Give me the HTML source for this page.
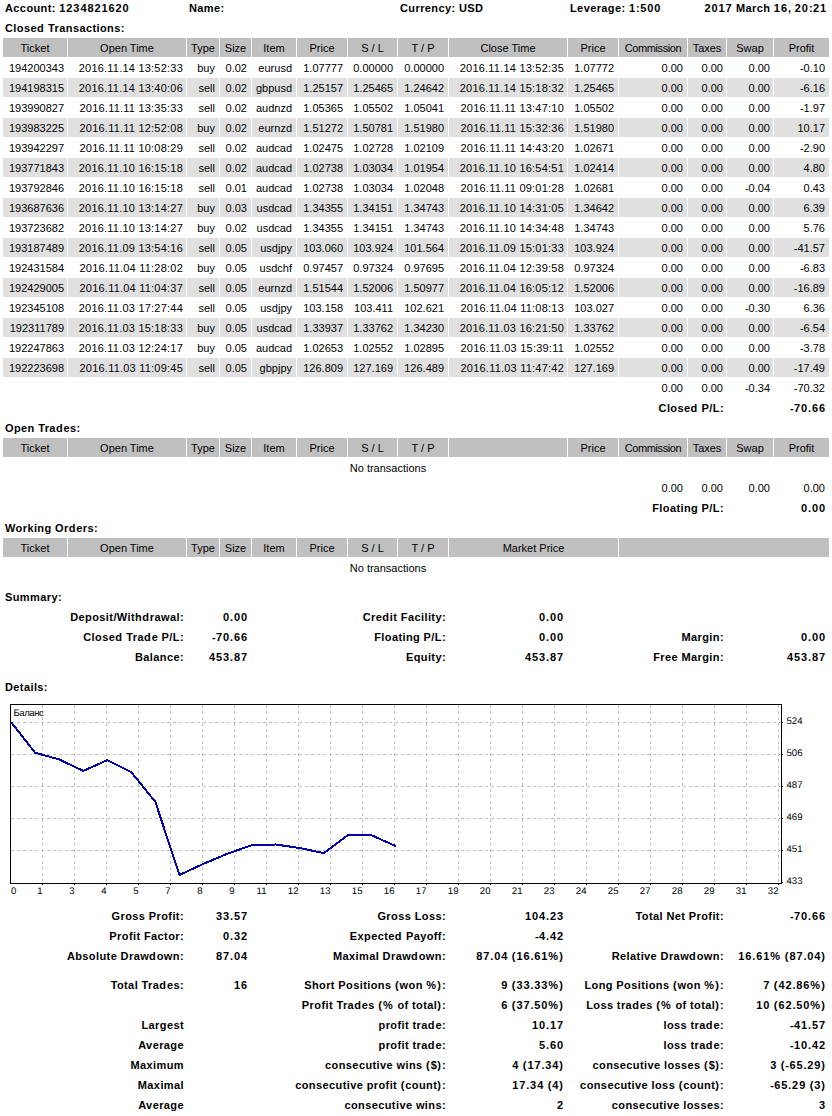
<!DOCTYPE html><html><head><meta charset="utf-8"><title>Statement</title><style>

html,body{margin:0;padding:0;background:#fff;}
body{width:832px;height:1116px;overflow:hidden;position:relative;}
.c{position:absolute;height:19px;line-height:21px;box-sizing:border-box;padding:0 3px;
   font-family:"Liberation Sans",sans-serif;font-size:11px;color:#000;white-space:nowrap;text-align:right;overflow:visible;}
.l{text-align:left;padding-left:2px;}
.m{text-align:center;}
.b{font-weight:bold;letter-spacing:0.4px;padding-right:2px;}
i{font-style:normal;}
.n{letter-spacing:0.9px;}
.o{letter-spacing:0.8px;}
.q{letter-spacing:1.0px;}
.p{letter-spacing:1.2px;}
.d{letter-spacing:0.22px;}
.cm{letter-spacing:-0.4px;}
.r4{padding-right:4px;}
.b.bv{padding-right:3px;}
.chart{position:absolute;left:0;top:0;}
.ct{font-family:"Liberation Sans",sans-serif;font-size:9.6px;fill:#000;text-rendering:geometricPrecision;}

</style></head><body>
<div class="c l b" style="left:3px;top:-2px;width:183px;">Account: <i class="n">1234821620</i></div>
<div class="c l b" style="left:187px;top:-2px;width:210px;">Name:</div>
<div class="c l b" style="left:398px;top:-2px;width:169px;">Currency: USD</div>
<div class="c l b" style="left:568px;top:-2px;width:119px;">Leverage: <i class="n">1</i>:<i class="n">500</i></div>
<div class="c b" style="left:688px;top:-2px;width:141px;"><i class="n">2017</i> March <i class="n">16</i>, <i class="n">20</i>:<i class="n">21</i></div>
<div class="c l b" style="left:3px;top:18px;width:826px;">Close<i class="n">d</i> Transactions:</div>
<div class="c m h" style="left:3px;top:38px;width:64px;background:#C0C0C0;">Ticket</div>
<div class="c m h" style="left:68px;top:38px;width:118px;background:#C0C0C0;">Open Time</div>
<div class="c m h" style="left:187px;top:38px;width:32px;background:#C0C0C0;">Type</div>
<div class="c m h" style="left:220px;top:38px;width:31px;background:#C0C0C0;">Size</div>
<div class="c m h" style="left:252px;top:38px;width:44px;background:#C0C0C0;">Item</div>
<div class="c m h" style="left:297px;top:38px;width:50px;background:#C0C0C0;">Price</div>
<div class="c m h" style="left:348px;top:38px;width:49px;background:#C0C0C0;">S / L</div>
<div class="c m h" style="left:398px;top:38px;width:50px;background:#C0C0C0;">T / P</div>
<div class="c m h" style="left:449px;top:38px;width:118px;background:#C0C0C0;">Close Time</div>
<div class="c m h" style="left:568px;top:38px;width:50px;background:#C0C0C0;">Price</div>
<div class="c m h cm" style="left:619px;top:38px;width:68px;background:#C0C0C0;">Commission</div>
<div class="c m h" style="left:688px;top:38px;width:38px;background:#C0C0C0;">Taxes</div>
<div class="c m h" style="left:727px;top:38px;width:46px;background:#C0C0C0;">Swap</div>
<div class="c m h" style="left:774px;top:38px;width:55px;background:#C0C0C0;">Profit</div>
<div class="c" style="left:3px;top:58px;width:64px;">194200343</div>
<div class="c d" style="left:68px;top:58px;width:118px;">2016.11.14 13:52:33</div>
<div class="c  r4" style="left:187px;top:58px;width:32px;">buy</div>
<div class="c  r4" style="left:220px;top:58px;width:31px;">0.02</div>
<div class="c  r4" style="left:252px;top:58px;width:44px;">eurusd</div>
<div class="c  r4" style="left:297px;top:58px;width:50px;">1.07777</div>
<div class="c  r4" style="left:348px;top:58px;width:49px;">0.00000</div>
<div class="c  r4" style="left:398px;top:58px;width:50px;">0.00000</div>
<div class="c d" style="left:449px;top:58px;width:118px;">2016.11.14 13:52:35</div>
<div class="c  r4" style="left:568px;top:58px;width:50px;">1.07772</div>
<div class="c  r4" style="left:619px;top:58px;width:68px;">0.00</div>
<div class="c" style="left:688px;top:58px;width:38px;">0.00</div>
<div class="c" style="left:727px;top:58px;width:46px;">0.00</div>
<div class="c  r4" style="left:774px;top:58px;width:55px;">-0.10</div>
<div class="c" style="left:3px;top:78px;width:64px;background:#E0E0E0;">194198315</div>
<div class="c d" style="left:68px;top:78px;width:118px;background:#E0E0E0;">2016.11.14 13:40:06</div>
<div class="c  r4" style="left:187px;top:78px;width:32px;background:#E0E0E0;">sell</div>
<div class="c  r4" style="left:220px;top:78px;width:31px;background:#E0E0E0;">0.02</div>
<div class="c  r4" style="left:252px;top:78px;width:44px;background:#E0E0E0;">gbpusd</div>
<div class="c  r4" style="left:297px;top:78px;width:50px;background:#E0E0E0;">1.25157</div>
<div class="c  r4" style="left:348px;top:78px;width:49px;background:#E0E0E0;">1.25465</div>
<div class="c  r4" style="left:398px;top:78px;width:50px;background:#E0E0E0;">1.24642</div>
<div class="c d" style="left:449px;top:78px;width:118px;background:#E0E0E0;">2016.11.14 15:18:32</div>
<div class="c  r4" style="left:568px;top:78px;width:50px;background:#E0E0E0;">1.25465</div>
<div class="c  r4" style="left:619px;top:78px;width:68px;background:#E0E0E0;">0.00</div>
<div class="c" style="left:688px;top:78px;width:38px;background:#E0E0E0;">0.00</div>
<div class="c" style="left:727px;top:78px;width:46px;background:#E0E0E0;">0.00</div>
<div class="c  r4" style="left:774px;top:78px;width:55px;background:#E0E0E0;">-6.16</div>
<div class="c" style="left:3px;top:98px;width:64px;">193990827</div>
<div class="c d" style="left:68px;top:98px;width:118px;">2016.11.11 13:35:33</div>
<div class="c  r4" style="left:187px;top:98px;width:32px;">sell</div>
<div class="c  r4" style="left:220px;top:98px;width:31px;">0.02</div>
<div class="c  r4" style="left:252px;top:98px;width:44px;">audnzd</div>
<div class="c  r4" style="left:297px;top:98px;width:50px;">1.05365</div>
<div class="c  r4" style="left:348px;top:98px;width:49px;">1.05502</div>
<div class="c  r4" style="left:398px;top:98px;width:50px;">1.05041</div>
<div class="c d" style="left:449px;top:98px;width:118px;">2016.11.11 13:47:10</div>
<div class="c  r4" style="left:568px;top:98px;width:50px;">1.05502</div>
<div class="c  r4" style="left:619px;top:98px;width:68px;">0.00</div>
<div class="c" style="left:688px;top:98px;width:38px;">0.00</div>
<div class="c" style="left:727px;top:98px;width:46px;">0.00</div>
<div class="c  r4" style="left:774px;top:98px;width:55px;">-1.97</div>
<div class="c" style="left:3px;top:118px;width:64px;background:#E0E0E0;">193983225</div>
<div class="c d" style="left:68px;top:118px;width:118px;background:#E0E0E0;">2016.11.11 12:52:08</div>
<div class="c  r4" style="left:187px;top:118px;width:32px;background:#E0E0E0;">buy</div>
<div class="c  r4" style="left:220px;top:118px;width:31px;background:#E0E0E0;">0.02</div>
<div class="c  r4" style="left:252px;top:118px;width:44px;background:#E0E0E0;">eurnzd</div>
<div class="c  r4" style="left:297px;top:118px;width:50px;background:#E0E0E0;">1.51272</div>
<div class="c  r4" style="left:348px;top:118px;width:49px;background:#E0E0E0;">1.50781</div>
<div class="c  r4" style="left:398px;top:118px;width:50px;background:#E0E0E0;">1.51980</div>
<div class="c d" style="left:449px;top:118px;width:118px;background:#E0E0E0;">2016.11.11 15:32:36</div>
<div class="c  r4" style="left:568px;top:118px;width:50px;background:#E0E0E0;">1.51980</div>
<div class="c  r4" style="left:619px;top:118px;width:68px;background:#E0E0E0;">0.00</div>
<div class="c" style="left:688px;top:118px;width:38px;background:#E0E0E0;">0.00</div>
<div class="c" style="left:727px;top:118px;width:46px;background:#E0E0E0;">0.00</div>
<div class="c  r4" style="left:774px;top:118px;width:55px;background:#E0E0E0;">10.17</div>
<div class="c" style="left:3px;top:138px;width:64px;">193942297</div>
<div class="c d" style="left:68px;top:138px;width:118px;">2016.11.11 10:08:29</div>
<div class="c  r4" style="left:187px;top:138px;width:32px;">sell</div>
<div class="c  r4" style="left:220px;top:138px;width:31px;">0.02</div>
<div class="c  r4" style="left:252px;top:138px;width:44px;">audcad</div>
<div class="c  r4" style="left:297px;top:138px;width:50px;">1.02475</div>
<div class="c  r4" style="left:348px;top:138px;width:49px;">1.02728</div>
<div class="c  r4" style="left:398px;top:138px;width:50px;">1.02109</div>
<div class="c d" style="left:449px;top:138px;width:118px;">2016.11.11 14:43:20</div>
<div class="c  r4" style="left:568px;top:138px;width:50px;">1.02671</div>
<div class="c  r4" style="left:619px;top:138px;width:68px;">0.00</div>
<div class="c" style="left:688px;top:138px;width:38px;">0.00</div>
<div class="c" style="left:727px;top:138px;width:46px;">0.00</div>
<div class="c  r4" style="left:774px;top:138px;width:55px;">-2.90</div>
<div class="c" style="left:3px;top:158px;width:64px;background:#E0E0E0;">193771843</div>
<div class="c d" style="left:68px;top:158px;width:118px;background:#E0E0E0;">2016.11.10 16:15:18</div>
<div class="c  r4" style="left:187px;top:158px;width:32px;background:#E0E0E0;">sell</div>
<div class="c  r4" style="left:220px;top:158px;width:31px;background:#E0E0E0;">0.02</div>
<div class="c  r4" style="left:252px;top:158px;width:44px;background:#E0E0E0;">audcad</div>
<div class="c  r4" style="left:297px;top:158px;width:50px;background:#E0E0E0;">1.02738</div>
<div class="c  r4" style="left:348px;top:158px;width:49px;background:#E0E0E0;">1.03034</div>
<div class="c  r4" style="left:398px;top:158px;width:50px;background:#E0E0E0;">1.01954</div>
<div class="c d" style="left:449px;top:158px;width:118px;background:#E0E0E0;">2016.11.10 16:54:51</div>
<div class="c  r4" style="left:568px;top:158px;width:50px;background:#E0E0E0;">1.02414</div>
<div class="c  r4" style="left:619px;top:158px;width:68px;background:#E0E0E0;">0.00</div>
<div class="c" style="left:688px;top:158px;width:38px;background:#E0E0E0;">0.00</div>
<div class="c" style="left:727px;top:158px;width:46px;background:#E0E0E0;">0.00</div>
<div class="c  r4" style="left:774px;top:158px;width:55px;background:#E0E0E0;">4.80</div>
<div class="c" style="left:3px;top:178px;width:64px;">193792846</div>
<div class="c d" style="left:68px;top:178px;width:118px;">2016.11.10 16:15:18</div>
<div class="c  r4" style="left:187px;top:178px;width:32px;">sell</div>
<div class="c  r4" style="left:220px;top:178px;width:31px;">0.01</div>
<div class="c  r4" style="left:252px;top:178px;width:44px;">audcad</div>
<div class="c  r4" style="left:297px;top:178px;width:50px;">1.02738</div>
<div class="c  r4" style="left:348px;top:178px;width:49px;">1.03034</div>
<div class="c  r4" style="left:398px;top:178px;width:50px;">1.02048</div>
<div class="c d" style="left:449px;top:178px;width:118px;">2016.11.11 09:01:28</div>
<div class="c  r4" style="left:568px;top:178px;width:50px;">1.02681</div>
<div class="c  r4" style="left:619px;top:178px;width:68px;">0.00</div>
<div class="c" style="left:688px;top:178px;width:38px;">0.00</div>
<div class="c" style="left:727px;top:178px;width:46px;">-0.04</div>
<div class="c  r4" style="left:774px;top:178px;width:55px;">0.43</div>
<div class="c" style="left:3px;top:198px;width:64px;background:#E0E0E0;">193687636</div>
<div class="c d" style="left:68px;top:198px;width:118px;background:#E0E0E0;">2016.11.10 13:14:27</div>
<div class="c  r4" style="left:187px;top:198px;width:32px;background:#E0E0E0;">buy</div>
<div class="c  r4" style="left:220px;top:198px;width:31px;background:#E0E0E0;">0.03</div>
<div class="c  r4" style="left:252px;top:198px;width:44px;background:#E0E0E0;">usdcad</div>
<div class="c  r4" style="left:297px;top:198px;width:50px;background:#E0E0E0;">1.34355</div>
<div class="c  r4" style="left:348px;top:198px;width:49px;background:#E0E0E0;">1.34151</div>
<div class="c  r4" style="left:398px;top:198px;width:50px;background:#E0E0E0;">1.34743</div>
<div class="c d" style="left:449px;top:198px;width:118px;background:#E0E0E0;">2016.11.10 14:31:05</div>
<div class="c  r4" style="left:568px;top:198px;width:50px;background:#E0E0E0;">1.34642</div>
<div class="c  r4" style="left:619px;top:198px;width:68px;background:#E0E0E0;">0.00</div>
<div class="c" style="left:688px;top:198px;width:38px;background:#E0E0E0;">0.00</div>
<div class="c" style="left:727px;top:198px;width:46px;background:#E0E0E0;">0.00</div>
<div class="c  r4" style="left:774px;top:198px;width:55px;background:#E0E0E0;">6.39</div>
<div class="c" style="left:3px;top:218px;width:64px;">193723682</div>
<div class="c d" style="left:68px;top:218px;width:118px;">2016.11.10 13:14:27</div>
<div class="c  r4" style="left:187px;top:218px;width:32px;">buy</div>
<div class="c  r4" style="left:220px;top:218px;width:31px;">0.02</div>
<div class="c  r4" style="left:252px;top:218px;width:44px;">usdcad</div>
<div class="c  r4" style="left:297px;top:218px;width:50px;">1.34355</div>
<div class="c  r4" style="left:348px;top:218px;width:49px;">1.34151</div>
<div class="c  r4" style="left:398px;top:218px;width:50px;">1.34743</div>
<div class="c d" style="left:449px;top:218px;width:118px;">2016.11.10 14:34:48</div>
<div class="c  r4" style="left:568px;top:218px;width:50px;">1.34743</div>
<div class="c  r4" style="left:619px;top:218px;width:68px;">0.00</div>
<div class="c" style="left:688px;top:218px;width:38px;">0.00</div>
<div class="c" style="left:727px;top:218px;width:46px;">0.00</div>
<div class="c  r4" style="left:774px;top:218px;width:55px;">5.76</div>
<div class="c" style="left:3px;top:238px;width:64px;background:#E0E0E0;">193187489</div>
<div class="c d" style="left:68px;top:238px;width:118px;background:#E0E0E0;">2016.11.09 13:54:16</div>
<div class="c  r4" style="left:187px;top:238px;width:32px;background:#E0E0E0;">sell</div>
<div class="c  r4" style="left:220px;top:238px;width:31px;background:#E0E0E0;">0.05</div>
<div class="c  r4" style="left:252px;top:238px;width:44px;background:#E0E0E0;">usdjpy</div>
<div class="c  r4" style="left:297px;top:238px;width:50px;background:#E0E0E0;">103.060</div>
<div class="c  r4" style="left:348px;top:238px;width:49px;background:#E0E0E0;">103.924</div>
<div class="c  r4" style="left:398px;top:238px;width:50px;background:#E0E0E0;">101.564</div>
<div class="c d" style="left:449px;top:238px;width:118px;background:#E0E0E0;">2016.11.09 15:01:33</div>
<div class="c  r4" style="left:568px;top:238px;width:50px;background:#E0E0E0;">103.924</div>
<div class="c  r4" style="left:619px;top:238px;width:68px;background:#E0E0E0;">0.00</div>
<div class="c" style="left:688px;top:238px;width:38px;background:#E0E0E0;">0.00</div>
<div class="c" style="left:727px;top:238px;width:46px;background:#E0E0E0;">0.00</div>
<div class="c  r4" style="left:774px;top:238px;width:55px;background:#E0E0E0;">-41.57</div>
<div class="c" style="left:3px;top:258px;width:64px;">192431584</div>
<div class="c d" style="left:68px;top:258px;width:118px;">2016.11.04 11:28:02</div>
<div class="c  r4" style="left:187px;top:258px;width:32px;">buy</div>
<div class="c  r4" style="left:220px;top:258px;width:31px;">0.05</div>
<div class="c  r4" style="left:252px;top:258px;width:44px;">usdchf</div>
<div class="c  r4" style="left:297px;top:258px;width:50px;">0.97457</div>
<div class="c  r4" style="left:348px;top:258px;width:49px;">0.97324</div>
<div class="c  r4" style="left:398px;top:258px;width:50px;">0.97695</div>
<div class="c d" style="left:449px;top:258px;width:118px;">2016.11.04 12:39:58</div>
<div class="c  r4" style="left:568px;top:258px;width:50px;">0.97324</div>
<div class="c  r4" style="left:619px;top:258px;width:68px;">0.00</div>
<div class="c" style="left:688px;top:258px;width:38px;">0.00</div>
<div class="c" style="left:727px;top:258px;width:46px;">0.00</div>
<div class="c  r4" style="left:774px;top:258px;width:55px;">-6.83</div>
<div class="c" style="left:3px;top:278px;width:64px;background:#E0E0E0;">192429005</div>
<div class="c d" style="left:68px;top:278px;width:118px;background:#E0E0E0;">2016.11.04 11:04:37</div>
<div class="c  r4" style="left:187px;top:278px;width:32px;background:#E0E0E0;">sell</div>
<div class="c  r4" style="left:220px;top:278px;width:31px;background:#E0E0E0;">0.05</div>
<div class="c  r4" style="left:252px;top:278px;width:44px;background:#E0E0E0;">eurnzd</div>
<div class="c  r4" style="left:297px;top:278px;width:50px;background:#E0E0E0;">1.51544</div>
<div class="c  r4" style="left:348px;top:278px;width:49px;background:#E0E0E0;">1.52006</div>
<div class="c  r4" style="left:398px;top:278px;width:50px;background:#E0E0E0;">1.50977</div>
<div class="c d" style="left:449px;top:278px;width:118px;background:#E0E0E0;">2016.11.04 16:05:12</div>
<div class="c  r4" style="left:568px;top:278px;width:50px;background:#E0E0E0;">1.52006</div>
<div class="c  r4" style="left:619px;top:278px;width:68px;background:#E0E0E0;">0.00</div>
<div class="c" style="left:688px;top:278px;width:38px;background:#E0E0E0;">0.00</div>
<div class="c" style="left:727px;top:278px;width:46px;background:#E0E0E0;">0.00</div>
<div class="c  r4" style="left:774px;top:278px;width:55px;background:#E0E0E0;">-16.89</div>
<div class="c" style="left:3px;top:298px;width:64px;">192345108</div>
<div class="c d" style="left:68px;top:298px;width:118px;">2016.11.03 17:27:44</div>
<div class="c  r4" style="left:187px;top:298px;width:32px;">sell</div>
<div class="c  r4" style="left:220px;top:298px;width:31px;">0.05</div>
<div class="c  r4" style="left:252px;top:298px;width:44px;">usdjpy</div>
<div class="c  r4" style="left:297px;top:298px;width:50px;">103.158</div>
<div class="c  r4" style="left:348px;top:298px;width:49px;">103.411</div>
<div class="c  r4" style="left:398px;top:298px;width:50px;">102.621</div>
<div class="c d" style="left:449px;top:298px;width:118px;">2016.11.04 11:08:13</div>
<div class="c  r4" style="left:568px;top:298px;width:50px;">103.027</div>
<div class="c  r4" style="left:619px;top:298px;width:68px;">0.00</div>
<div class="c" style="left:688px;top:298px;width:38px;">0.00</div>
<div class="c" style="left:727px;top:298px;width:46px;">-0.30</div>
<div class="c  r4" style="left:774px;top:298px;width:55px;">6.36</div>
<div class="c" style="left:3px;top:318px;width:64px;background:#E0E0E0;">192311789</div>
<div class="c d" style="left:68px;top:318px;width:118px;background:#E0E0E0;">2016.11.03 15:18:33</div>
<div class="c  r4" style="left:187px;top:318px;width:32px;background:#E0E0E0;">buy</div>
<div class="c  r4" style="left:220px;top:318px;width:31px;background:#E0E0E0;">0.05</div>
<div class="c  r4" style="left:252px;top:318px;width:44px;background:#E0E0E0;">usdcad</div>
<div class="c  r4" style="left:297px;top:318px;width:50px;background:#E0E0E0;">1.33937</div>
<div class="c  r4" style="left:348px;top:318px;width:49px;background:#E0E0E0;">1.33762</div>
<div class="c  r4" style="left:398px;top:318px;width:50px;background:#E0E0E0;">1.34230</div>
<div class="c d" style="left:449px;top:318px;width:118px;background:#E0E0E0;">2016.11.03 16:21:50</div>
<div class="c  r4" style="left:568px;top:318px;width:50px;background:#E0E0E0;">1.33762</div>
<div class="c  r4" style="left:619px;top:318px;width:68px;background:#E0E0E0;">0.00</div>
<div class="c" style="left:688px;top:318px;width:38px;background:#E0E0E0;">0.00</div>
<div class="c" style="left:727px;top:318px;width:46px;background:#E0E0E0;">0.00</div>
<div class="c  r4" style="left:774px;top:318px;width:55px;background:#E0E0E0;">-6.54</div>
<div class="c" style="left:3px;top:338px;width:64px;">192247863</div>
<div class="c d" style="left:68px;top:338px;width:118px;">2016.11.03 12:24:17</div>
<div class="c  r4" style="left:187px;top:338px;width:32px;">buy</div>
<div class="c  r4" style="left:220px;top:338px;width:31px;">0.05</div>
<div class="c  r4" style="left:252px;top:338px;width:44px;">audcad</div>
<div class="c  r4" style="left:297px;top:338px;width:50px;">1.02653</div>
<div class="c  r4" style="left:348px;top:338px;width:49px;">1.02552</div>
<div class="c  r4" style="left:398px;top:338px;width:50px;">1.02895</div>
<div class="c d" style="left:449px;top:338px;width:118px;">2016.11.03 15:39:11</div>
<div class="c  r4" style="left:568px;top:338px;width:50px;">1.02552</div>
<div class="c  r4" style="left:619px;top:338px;width:68px;">0.00</div>
<div class="c" style="left:688px;top:338px;width:38px;">0.00</div>
<div class="c" style="left:727px;top:338px;width:46px;">0.00</div>
<div class="c  r4" style="left:774px;top:338px;width:55px;">-3.78</div>
<div class="c" style="left:3px;top:358px;width:64px;background:#E0E0E0;">192223698</div>
<div class="c d" style="left:68px;top:358px;width:118px;background:#E0E0E0;">2016.11.03 11:09:45</div>
<div class="c  r4" style="left:187px;top:358px;width:32px;background:#E0E0E0;">sell</div>
<div class="c  r4" style="left:220px;top:358px;width:31px;background:#E0E0E0;">0.05</div>
<div class="c  r4" style="left:252px;top:358px;width:44px;background:#E0E0E0;">gbpjpy</div>
<div class="c  r4" style="left:297px;top:358px;width:50px;background:#E0E0E0;">126.809</div>
<div class="c  r4" style="left:348px;top:358px;width:49px;background:#E0E0E0;">127.169</div>
<div class="c  r4" style="left:398px;top:358px;width:50px;background:#E0E0E0;">126.489</div>
<div class="c d" style="left:449px;top:358px;width:118px;background:#E0E0E0;">2016.11.03 11:47:42</div>
<div class="c  r4" style="left:568px;top:358px;width:50px;background:#E0E0E0;">127.169</div>
<div class="c  r4" style="left:619px;top:358px;width:68px;background:#E0E0E0;">0.00</div>
<div class="c" style="left:688px;top:358px;width:38px;background:#E0E0E0;">0.00</div>
<div class="c" style="left:727px;top:358px;width:46px;background:#E0E0E0;">0.00</div>
<div class="c  r4" style="left:774px;top:358px;width:55px;background:#E0E0E0;">-17.49</div>
<div class="c r4" style="left:619px;top:378px;width:68px;">0.00</div>
<div class="c" style="left:688px;top:378px;width:38px;">0.00</div>
<div class="c" style="left:727px;top:378px;width:46px;">-0.34</div>
<div class="c r4" style="left:774px;top:378px;width:55px;">-70.32</div>
<div class="c b" style="left:568px;top:398px;width:158px;">Close<i class="n">d</i> P/L:</div>
<div class="c b bv" style="left:727px;top:398px;width:102px;">-<i class="n">70</i><i class="o">.</i><i class="n">66</i></div>
<div class="c l b" style="left:3px;top:418px;width:826px;">Open Tra<i class="n">d</i>es:</div>
<div class="c m h" style="left:3px;top:438px;width:64px;background:#C0C0C0;">Ticket</div>
<div class="c m h" style="left:68px;top:438px;width:118px;background:#C0C0C0;">Open Time</div>
<div class="c m h" style="left:187px;top:438px;width:32px;background:#C0C0C0;">Type</div>
<div class="c m h" style="left:220px;top:438px;width:31px;background:#C0C0C0;">Size</div>
<div class="c m h" style="left:252px;top:438px;width:44px;background:#C0C0C0;">Item</div>
<div class="c m h" style="left:297px;top:438px;width:50px;background:#C0C0C0;">Price</div>
<div class="c m h" style="left:348px;top:438px;width:49px;background:#C0C0C0;">S / L</div>
<div class="c m h" style="left:398px;top:438px;width:50px;background:#C0C0C0;">T / P</div>
<div class="c m h" style="left:449px;top:438px;width:118px;background:#C0C0C0;"></div>
<div class="c m h" style="left:568px;top:438px;width:50px;background:#C0C0C0;">Price</div>
<div class="c m h cm" style="left:619px;top:438px;width:68px;background:#C0C0C0;">Commission</div>
<div class="c m h" style="left:688px;top:438px;width:38px;background:#C0C0C0;">Taxes</div>
<div class="c m h" style="left:727px;top:438px;width:46px;background:#C0C0C0;">Swap</div>
<div class="c m h" style="left:774px;top:438px;width:55px;background:#C0C0C0;">Profit</div>
<div class="c m" style="left:3px;top:458px;width:770px;">No transactions</div>
<div class="c r4" style="left:619px;top:478px;width:68px;">0.00</div>
<div class="c" style="left:688px;top:478px;width:38px;">0.00</div>
<div class="c" style="left:727px;top:478px;width:46px;">0.00</div>
<div class="c r4" style="left:774px;top:478px;width:55px;">0.00</div>
<div class="c b" style="left:568px;top:498px;width:158px;">Floating P/L:</div>
<div class="c b bv" style="left:727px;top:498px;width:102px;"><i class="n">0</i><i class="o">.</i><i class="n">00</i></div>
<div class="c l b" style="left:3px;top:518px;width:826px;">Working Or<i class="n">d</i>ers:</div>
<div class="c m h" style="left:3px;top:538px;width:64px;background:#C0C0C0;">Ticket</div>
<div class="c m h" style="left:68px;top:538px;width:118px;background:#C0C0C0;">Open Time</div>
<div class="c m h" style="left:187px;top:538px;width:32px;background:#C0C0C0;">Type</div>
<div class="c m h" style="left:220px;top:538px;width:31px;background:#C0C0C0;">Size</div>
<div class="c m h" style="left:252px;top:538px;width:44px;background:#C0C0C0;">Item</div>
<div class="c m h" style="left:297px;top:538px;width:50px;background:#C0C0C0;">Price</div>
<div class="c m h" style="left:348px;top:538px;width:49px;background:#C0C0C0;">S / L</div>
<div class="c m h" style="left:398px;top:538px;width:50px;background:#C0C0C0;">T / P</div>
<div class="c m h" style="left:449px;top:538px;width:169px;background:#C0C0C0;">Market Price</div>
<div class="c m h" style="left:619px;top:538px;width:210px;background:#C0C0C0;"></div>
<div class="c m" style="left:3px;top:558px;width:770px;">No transactions</div>
<div class="c l b" style="left:3px;top:587px;width:826px;">Summary:</div>
<div class="c b" style="left:3px;top:607px;width:183px;">Deposit/With<i class="n">d</i>rawal:</div>
<div class="c b bv" style="left:187px;top:607px;width:64px;"><i class="n">0</i><i class="o">.</i><i class="n">00</i></div>
<div class="c b" style="left:252px;top:607px;width:196px;">Cre<i class="n">d</i>it Facility:</div>
<div class="c b bv" style="left:449px;top:607px;width:118px;"><i class="n">0</i><i class="o">.</i><i class="n">00</i></div>
<div class="c b" style="left:3px;top:627px;width:183px;">Close<i class="n">d</i> Tra<i class="n">d</i>e P/L:</div>
<div class="c b bv" style="left:187px;top:627px;width:64px;">-<i class="n">70</i><i class="o">.</i><i class="n">66</i></div>
<div class="c b" style="left:252px;top:627px;width:196px;">Floating P/L:</div>
<div class="c b bv" style="left:449px;top:627px;width:118px;"><i class="n">0</i><i class="o">.</i><i class="n">00</i></div>
<div class="c b" style="left:568px;top:627px;width:158px;">Margin:</div>
<div class="c b bv" style="left:727px;top:627px;width:102px;"><i class="n">0</i><i class="o">.</i><i class="n">00</i></div>
<div class="c b" style="left:3px;top:647px;width:183px;">Balance:</div>
<div class="c b bv" style="left:187px;top:647px;width:64px;"><i class="n">453</i><i class="o">.</i><i class="n">87</i></div>
<div class="c b" style="left:252px;top:647px;width:196px;">Equity:</div>
<div class="c b bv" style="left:449px;top:647px;width:118px;"><i class="n">453</i><i class="o">.</i><i class="n">87</i></div>
<div class="c b" style="left:568px;top:647px;width:158px;">Free Margin:</div>
<div class="c b bv" style="left:727px;top:647px;width:102px;"><i class="n">453</i><i class="o">.</i><i class="n">87</i></div>
<div class="c l b" style="left:3px;top:677px;width:826px;">Details:</div>
<div class="c b" style="left:3px;top:906px;width:183px;">Gross Profit:</div>
<div class="c b bv" style="left:187px;top:906px;width:64px;"><i class="n">33</i><i class="o">.</i><i class="n">57</i></div>
<div class="c b" style="left:252px;top:906px;width:196px;">Gross Loss:</div>
<div class="c b bv" style="left:449px;top:906px;width:118px;"><i class="n">104</i><i class="o">.</i><i class="n">23</i></div>
<div class="c b" style="left:568px;top:906px;width:158px;">Total Net Profit:</div>
<div class="c b bv" style="left:727px;top:906px;width:102px;">-<i class="n">70</i><i class="o">.</i><i class="n">66</i></div>
<div class="c b" style="left:3px;top:926px;width:183px;">Profit Factor:</div>
<div class="c b bv" style="left:187px;top:926px;width:64px;"><i class="n">0</i><i class="o">.</i><i class="n">32</i></div>
<div class="c b" style="left:252px;top:926px;width:196px;">Expecte<i class="n">d</i> Payoff:</div>
<div class="c b bv" style="left:449px;top:926px;width:118px;">-<i class="n">4</i><i class="o">.</i><i class="n">42</i></div>
<div class="c b" style="left:3px;top:946px;width:183px;">Absolute Draw<i class="n">d</i>own:</div>
<div class="c b bv" style="left:187px;top:946px;width:64px;"><i class="n">87</i><i class="o">.</i><i class="n">04</i></div>
<div class="c b" style="left:252px;top:946px;width:196px;">Maximal Draw<i class="n">d</i>own:</div>
<div class="c b bv" style="left:449px;top:946px;width:118px;"><i class="n">87</i><i class="o">.</i><i class="n">04</i> <i class="q">(</i><i class="n">16</i><i class="o">.</i><i class="n">61</i><i class="p">%</i><i class="q">)</i></div>
<div class="c b" style="left:568px;top:946px;width:158px;">Relative Draw<i class="n">d</i>own:</div>
<div class="c b bv" style="left:727px;top:946px;width:102px;"><i class="n">16</i><i class="o">.</i><i class="n">61</i><i class="p">%</i> <i class="q">(</i><i class="n">87</i><i class="o">.</i><i class="n">04</i><i class="q">)</i></div>
<div class="c b" style="left:3px;top:975px;width:183px;">Total Tra<i class="n">d</i>es:</div>
<div class="c b bv" style="left:187px;top:975px;width:64px;"><i class="n">16</i></div>
<div class="c b" style="left:252px;top:975px;width:196px;">Short Positions <i class="q">(</i>won <i class="p">%</i><i class="q">)</i>:</div>
<div class="c b bv" style="left:449px;top:975px;width:118px;"><i class="n">9</i> <i class="q">(</i><i class="n">33</i><i class="o">.</i><i class="n">33</i><i class="p">%</i><i class="q">)</i></div>
<div class="c b" style="left:568px;top:975px;width:158px;">Long Positions <i class="q">(</i>won <i class="p">%</i><i class="q">)</i>:</div>
<div class="c b bv" style="left:727px;top:975px;width:102px;"><i class="n">7</i> <i class="q">(</i><i class="n">42</i><i class="o">.</i><i class="n">86</i><i class="p">%</i><i class="q">)</i></div>
<div class="c b" style="left:252px;top:995px;width:196px;">Profit Tra<i class="n">d</i>es <i class="q">(</i><i class="p">%</i> of total<i class="q">)</i>:</div>
<div class="c b bv" style="left:449px;top:995px;width:118px;"><i class="n">6</i> <i class="q">(</i><i class="n">37</i><i class="o">.</i><i class="n">50</i><i class="p">%</i><i class="q">)</i></div>
<div class="c b" style="left:568px;top:995px;width:158px;">Loss tra<i class="n">d</i>es <i class="q">(</i><i class="p">%</i> of total<i class="q">)</i>:</div>
<div class="c b bv" style="left:727px;top:995px;width:102px;"><i class="n">10</i> <i class="q">(</i><i class="n">62</i><i class="o">.</i><i class="n">50</i><i class="p">%</i><i class="q">)</i></div>
<div class="c b" style="left:3px;top:1015px;width:183px;">Largest</div>
<div class="c b" style="left:252px;top:1015px;width:196px;">profit tra<i class="n">d</i>e:</div>
<div class="c b bv" style="left:449px;top:1015px;width:118px;"><i class="n">10</i><i class="o">.</i><i class="n">17</i></div>
<div class="c b" style="left:568px;top:1015px;width:158px;">loss tra<i class="n">d</i>e:</div>
<div class="c b bv" style="left:727px;top:1015px;width:102px;">-<i class="n">41</i><i class="o">.</i><i class="n">57</i></div>
<div class="c b" style="left:3px;top:1035px;width:183px;">Average</div>
<div class="c b" style="left:252px;top:1035px;width:196px;">profit tra<i class="n">d</i>e:</div>
<div class="c b bv" style="left:449px;top:1035px;width:118px;"><i class="n">5</i><i class="o">.</i><i class="n">60</i></div>
<div class="c b" style="left:568px;top:1035px;width:158px;">loss tra<i class="n">d</i>e:</div>
<div class="c b bv" style="left:727px;top:1035px;width:102px;">-<i class="n">10</i><i class="o">.</i><i class="n">42</i></div>
<div class="c b" style="left:3px;top:1055px;width:183px;">Maximum</div>
<div class="c b" style="left:252px;top:1055px;width:196px;">consecutive wins <i class="q">(</i>$<i class="q">)</i>:</div>
<div class="c b bv" style="left:449px;top:1055px;width:118px;"><i class="n">4</i> <i class="q">(</i><i class="n">17</i><i class="o">.</i><i class="n">34</i><i class="q">)</i></div>
<div class="c b" style="left:568px;top:1055px;width:158px;">consecutive losses <i class="q">(</i>$<i class="q">)</i>:</div>
<div class="c b bv" style="left:727px;top:1055px;width:102px;"><i class="n">3</i> <i class="q">(</i>-<i class="n">65</i><i class="o">.</i><i class="n">29</i><i class="q">)</i></div>
<div class="c b" style="left:3px;top:1075px;width:183px;">Maximal</div>
<div class="c b" style="left:252px;top:1075px;width:196px;">consecutive profit <i class="q">(</i>count<i class="q">)</i>:</div>
<div class="c b bv" style="left:449px;top:1075px;width:118px;"><i class="n">17</i><i class="o">.</i><i class="n">34</i> <i class="q">(</i><i class="n">4</i><i class="q">)</i></div>
<div class="c b" style="left:568px;top:1075px;width:158px;">consecutive loss <i class="q">(</i>count<i class="q">)</i>:</div>
<div class="c b bv" style="left:727px;top:1075px;width:102px;">-<i class="n">65</i><i class="o">.</i><i class="n">29</i> <i class="q">(</i><i class="n">3</i><i class="q">)</i></div>
<div class="c b" style="left:3px;top:1095px;width:183px;">Average</div>
<div class="c b" style="left:252px;top:1095px;width:196px;">consecutive wins:</div>
<div class="c b bv" style="left:449px;top:1095px;width:118px;"><i class="n">2</i></div>
<div class="c b" style="left:568px;top:1095px;width:158px;">consecutive losses:</div>
<div class="c b bv" style="left:727px;top:1095px;width:102px;"><i class="n">3</i></div>
<svg class="chart" width="832" height="1116" viewBox="0 0 832 1116">
<path d="M42.5 705V883M74.5 705V883M106.5 705V883M138.5 705V883M170.5 705V883M202.5 705V883M234.5 705V883M266.5 705V883M298.5 705V883M330.5 705V883M362.5 705V883M394.5 705V883M426.5 705V883M458.5 705V883M490.5 705V883M522.5 705V883M554.5 705V883M586.5 705V883M618.5 705V883M650.5 705V883M682.5 705V883M714.5 705V883M746.5 705V883M778.5 705V883M11 722.5H781M11 754.5H781M11 786.5H781M11 818.5H781M11 850.5H781" stroke="#C0C0C0" stroke-width="1" stroke-dasharray="3 3" fill="none" shape-rendering="crispEdges"/>
<rect x="10.5" y="704.5" width="771" height="179" fill="none" stroke="#000" stroke-width="1" shape-rendering="crispEdges"/>
<path d="M782 722.5H783M782 754.5H783M782 786.5H783M782 818.5H783M782 850.5H783M782 882.5H783M42.5 884V885M74.5 884V885M106.5 884V885M138.5 884V885M170.5 884V885M202.5 884V885M234.5 884V885M266.5 884V885M298.5 884V885M330.5 884V885M362.5 884V885M394.5 884V885M426.5 884V885M458.5 884V885M490.5 884V885M522.5 884V885M554.5 884V885M586.5 884V885M618.5 884V885M650.5 884V885M682.5 884V885M714.5 884V885M746.5 884V885M778.5 884V885" stroke="#000" stroke-width="1" fill="none" shape-rendering="crispEdges"/>
<polyline points="11.0,722.0 35.1,752.7 59.1,759.4 83.2,770.9 107.2,760.2 131.3,772.2 155.4,801.9 179.4,875.0 203.5,863.8 227.5,853.7 251.6,845.2 275.7,844.5 299.7,848.0 323.8,853.1 347.8,835.2 371.9,835.4 396.0,846.2" fill="none" stroke="#0000AA" stroke-width="2" stroke-linejoin="miter" shape-rendering="crispEdges"/>
<text x="786.5" y="724" class="ct">524</text>
<text x="786.5" y="756" class="ct">506</text>
<text x="786.5" y="788" class="ct">487</text>
<text x="786.5" y="820" class="ct">469</text>
<text x="786.5" y="852" class="ct">451</text>
<text x="786.5" y="884" class="ct">433</text>
<text x="11" y="894" class="ct">0</text>
<text x="42.5" y="894" class="ct" text-anchor="end">1</text>
<text x="74.5" y="894" class="ct" text-anchor="end">3</text>
<text x="106.5" y="894" class="ct" text-anchor="end">4</text>
<text x="138.5" y="894" class="ct" text-anchor="end">5</text>
<text x="170.5" y="894" class="ct" text-anchor="end">7</text>
<text x="202.5" y="894" class="ct" text-anchor="end">8</text>
<text x="234.5" y="894" class="ct" text-anchor="end">9</text>
<text x="266.5" y="894" class="ct" text-anchor="end">11</text>
<text x="298.5" y="894" class="ct" text-anchor="end">12</text>
<text x="330.5" y="894" class="ct" text-anchor="end">13</text>
<text x="362.5" y="894" class="ct" text-anchor="end">15</text>
<text x="394.5" y="894" class="ct" text-anchor="end">16</text>
<text x="426.5" y="894" class="ct" text-anchor="end">17</text>
<text x="458.5" y="894" class="ct" text-anchor="end">19</text>
<text x="490.5" y="894" class="ct" text-anchor="end">20</text>
<text x="522.5" y="894" class="ct" text-anchor="end">21</text>
<text x="554.5" y="894" class="ct" text-anchor="end">23</text>
<text x="586.5" y="894" class="ct" text-anchor="end">24</text>
<text x="618.5" y="894" class="ct" text-anchor="end">25</text>
<text x="650.5" y="894" class="ct" text-anchor="end">27</text>
<text x="682.5" y="894" class="ct" text-anchor="end">28</text>
<text x="714.5" y="894" class="ct" text-anchor="end">29</text>
<text x="746.5" y="894" class="ct" text-anchor="end">31</text>
<text x="778.5" y="894" class="ct" text-anchor="end">32</text>
<text x="13.5" y="716" class="ct" style="font-size:9.5px;letter-spacing:-0.4px">Баланс</text>
</svg>
</body></html>
